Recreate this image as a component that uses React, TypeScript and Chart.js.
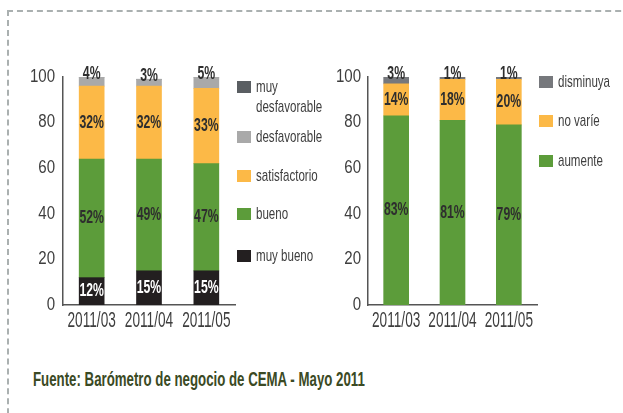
import React, { useEffect, useRef } from "react";
import { Chart, registerables } from "chart.js";

Chart.register(...registerables);

// ---- data ----
const periods = ["2011/03", "2011/04", "2011/05"];
const yTickValues = [0, 20, 40, 60, 80, 100];

// left chart
const muyBueno = [12, 15, 15];
const bueno = [52, 49, 47];
const satisfactorio = [32, 32, 33];
const desfavorable = [4, 3, 5];
const muyDesfavorable = [0, 0, 0];

// right chart
const aumente = [83, 81, 79];
const noVarie = [14, 18, 20];
const disminuya = [3, 1, 1];

const footerText = "Fuente: Barómetro de negocio de CEMA - Mayo 2011";

// ---- styles ----
const FONT = '"Liberation Sans", Arial, sans-serif';
const TEXT = "#3e3e3e";
const AXIS = "#555555";
const GREEN = "#5c9c3a";
const ORANGE = "#fcb947";
const BLACK = "#231f20";
const LIGHTGRAY = "#a9a9a9";
const DARKGRAY = "#5a5e62";
const MIDGRAY = "#76787c";

type Series = { label: string; data: number[]; color: string; textColor: string; top?: boolean; legendY: number; twoLine?: boolean };

const leftSeries: Series[] = [
  { label: "muy bueno", data: muyBueno, color: BLACK, textColor: "#ffffff", legendY: 256 },
  { label: "bueno", data: bueno, color: GREEN, textColor: "#2e2e2e", legendY: 214 },
  { label: "satisfactorio", data: satisfactorio, color: ORANGE, textColor: "#2e2e2e", legendY: 176 },
  { label: "desfavorable", data: desfavorable, color: LIGHTGRAY, textColor: "#2e2e2e", top: true, legendY: 137 },
  { label: "muy desfavorable", data: muyDesfavorable, color: DARKGRAY, textColor: "#2e2e2e", top: true, legendY: 87, twoLine: true },
];

const rightSeries: Series[] = [
  { label: "aumente", data: aumente, color: GREEN, textColor: "#2e2e2e", legendY: 161 },
  { label: "no varíe", data: noVarie, color: ORANGE, textColor: "#2e2e2e", legendY: 121 },
  { label: "disminuya", data: disminuya, color: MIDGRAY, textColor: "#2e2e2e", top: true, legendY: 82 },
];

const valueLabelPlugin = {
  id: "valueLabels",
  afterDatasetsDraw(chart: any) {
    const ctx = chart.ctx;
    ctx.save();
    ctx.font = `bold 18px ${FONT}`;
    ctx.textAlign = "center";
    ctx.textBaseline = "middle";
    chart.data.datasets.forEach((ds: any, i: number) => {
      const meta = chart.getDatasetMeta(i);
      meta.data.forEach((bar: any, j: number) => {
        const v = ds.data[j];
        if (!v || v <= 0) return;
        const txt = `${v}%`;
        ctx.fillStyle = ds.textColor;
        const y = ds.labelTop ? bar.y - 3 : (bar.y + bar.base) / 2;
        ctx.save();
        ctx.translate(bar.x, y);
        ctx.scale(0.68, 1);
        ctx.fillText(txt, 0, 0);
        ctx.restore();
      });
    });
    ctx.restore();
  },
};

const axisLabelPlugin = {
  id: "axisLabels",
  afterDraw(chart: any) {
    const ctx = chart.ctx;
    const xs = chart.scales.x;
    const ys = chart.scales.y;
    const area = chart.chartArea;
    ctx.save();
    ctx.fillStyle = TEXT;
    // category labels
    ctx.font = `22px ${FONT}`;
    ctx.textAlign = "center";
    ctx.textBaseline = "alphabetic";
    (chart.data.labels as string[]).forEach((lab, i) => {
      const x = xs.getPixelForTick(i);
      ctx.save();
      ctx.translate(x, area.bottom + 22);
      ctx.scale(0.62, 1);
      ctx.fillText(lab, 0, 0);
      ctx.restore();
    });
    // value ticks
    ctx.font = `17.5px ${FONT}`;
    ctx.textAlign = "right";
    ctx.textBaseline = "middle";
    yTickValues.forEach((v) => {
      const y = ys.getPixelForValue(v);
      ctx.save();
      ctx.translate(area.left - chart.options.tickPad, y);
      ctx.scale(0.86, 1);
      ctx.fillText(String(v), 0, 0);
      ctx.restore();
    });
    ctx.restore();
  },
};

function buildChart(canvas: HTMLCanvasElement, series: Series[], tickPad: number, rightPad: number) {
  return new Chart(canvas, {
    type: "bar",
    data: {
      labels: periods,
      datasets: series.map((s) => ({
        label: s.label,
        data: s.data,
        backgroundColor: s.color,
        borderWidth: 0,
        barThickness: 25,
        textColor: s.textColor,
        labelTop: !!s.top,
      })) as any,
    },
    options: {
      responsive: false,
      animation: false,
      devicePixelRatio: 1,
      tickPad,
      layout: { padding: { top: 77, right: rightPad, bottom: 0, left: 0 } },
      plugins: { legend: { display: false }, tooltip: { enabled: false }, title: { display: false } },
      scales: {
        x: {
          stacked: true,
          grid: { display: false },
          ticks: { display: false },
          border: { display: true, color: AXIS, width: 1.5 },
          afterFit: (s: any) => {
            s.height = 35;
            s.paddingLeft = 0;
            s.paddingRight = 0;
          },
        },
        y: {
          stacked: true,
          min: 0,
          max: 100,
          grid: { display: false },
          border: { display: true, color: AXIS, width: 1.5 },
          ticks: { display: false, stepSize: 20 },
          afterFit: (s: any) => {
            s.width = 63;
            s.paddingTop = 0;
            s.paddingBottom = 0;
          },
        },
      },
    } as any,
    plugins: [valueLabelPlugin, axisLabelPlugin],
  });
}

function Legend({ series, swatchX, textX }: { series: Series[]; swatchX: number; textX: number }) {
  return (
    <>
      {series.map((s) => (
        <React.Fragment key={s.label}>
          <div
            style={{
              position: "absolute",
              left: swatchX,
              top: s.legendY - 6,
              width: 14,
              height: 12,
              background: s.color,
            }}
          />
          <div
            style={{
              position: "absolute",
              left: textX,
              top: s.legendY - 10,
              fontFamily: FONT,
              fontSize: 17,
              lineHeight: "20px",
              color: TEXT,
              transform: "scaleX(0.68)",
              transformOrigin: "left top",
              whiteSpace: "nowrap",
            }}
          >
            {s.twoLine ? (
              <>
                {s.label.split(" ")[0]}
                <br />
                {s.label.split(" ").slice(1).join(" ")}
              </>
            ) : (
              s.label
            )}
          </div>
        </React.Fragment>
      ))}
    </>
  );
}

export default function App() {
  const leftRef = useRef<HTMLCanvasElement | null>(null);
  const rightRef = useRef<HTMLCanvasElement | null>(null);

  useEffect(() => {
    const c1 = buildChart(leftRef.current!, leftSeries, 8, 5);
    const c2 = buildChart(rightRef.current!, rightSeries, 7, 8);
    return () => {
      c1.destroy();
      c2.destroy();
    };
  }, []);

  return (
    <div
      style={{
        position: "absolute",
        left: 0,
        top: 0,
        width: 623,
        height: 413,
        overflow: "hidden",
        background: "#ffffff",
      }}
    >
      <div
        style={{
          position: "absolute",
          left: 7,
          top: 10,
          width: 660,
          height: 460,
          border: "2px dashed #aab0b0",
        }}
      />
      <canvas
        ref={leftRef}
        width={240}
        height={340}
        style={{ position: "absolute", left: 0, top: 0, width: 240, height: 340 }}
      />
      <canvas
        ref={rightRef}
        width={240}
        height={340}
        style={{ position: "absolute", left: 305, top: 0, width: 240, height: 340 }}
      />
      <Legend series={leftSeries} swatchX={237} textX={256} />
      <Legend series={rightSeries} swatchX={539} textX={558} />
      <div
        style={{
          position: "absolute",
          left: 33,
          top: 368,
          fontFamily: FONT,
          fontWeight: "bold",
          fontSize: 19.5,
          lineHeight: "22px",
          color: "#3b4a24",
          whiteSpace: "nowrap",
          transform: "scaleX(0.68)",
          transformOrigin: "left top",
        }}
      >
        {footerText}
      </div>
    </div>
  );
}
